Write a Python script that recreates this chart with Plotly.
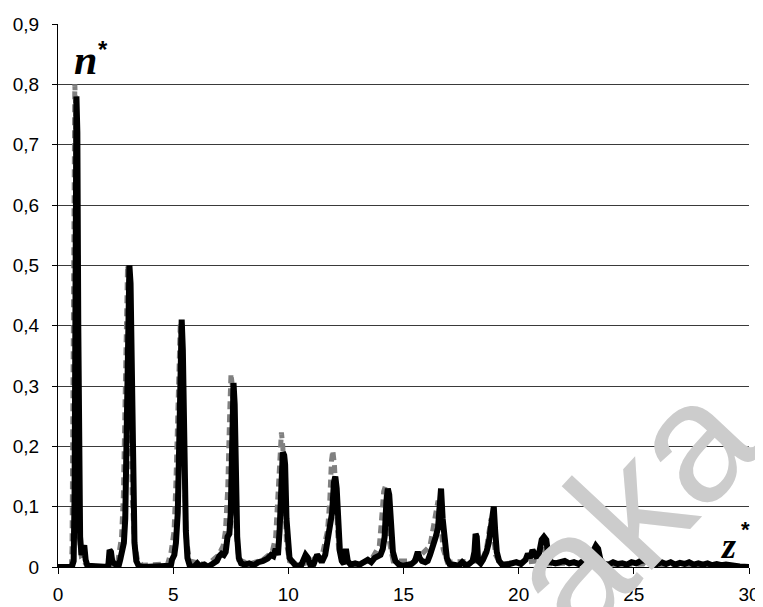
import plotly.graph_objects as go

# Solid black series (z*, n*)
x_solid = [0.0, 0.6, 0.68, 0.72, 0.76, 0.80, 0.84, 0.88, 0.92, 0.96, 1.02, 1.08, 1.14, 1.2, 1.28,
           2.18, 2.24, 2.3, 2.36, 2.45, 2.55, 2.62, 2.7, 2.78, 2.86, 2.92, 2.98, 3.04, 3.1, 3.15, 3.2,
           3.26, 3.32, 3.4, 3.5, 3.7, 4.9, 4.95, 5.05, 5.12, 5.2, 5.26, 5.32, 5.37, 5.42, 5.48, 5.55,
           5.62, 5.72, 5.9, 6.05, 6.15, 6.35, 6.5, 6.7, 6.9, 7.0, 7.1, 7.2, 7.28, 7.36, 7.44, 7.5,
           7.56, 7.62, 7.67, 7.72, 7.78, 7.85, 7.95, 8.1, 8.3, 8.5, 8.7, 8.9, 9.1, 9.25, 9.35, 9.45,
           9.55, 9.62, 9.7, 9.76, 9.82, 9.86, 9.92, 9.98, 10.05, 10.15, 10.3, 10.55, 10.75, 10.85,
           10.95, 11.1, 11.25, 11.35, 11.45, 11.6, 11.7, 11.8, 11.9, 11.98, 12.04, 12.1, 12.16, 12.24,
           12.32, 12.42, 12.5, 12.58, 12.7, 12.9, 13.1, 13.3, 13.45, 13.6, 13.75, 13.9, 14.0, 14.1,
           14.18, 14.26, 14.32, 14.38, 14.46, 14.54, 14.65, 14.8, 15.0, 15.2, 15.35, 15.5, 15.62,
           15.7, 15.8, 15.95, 16.05, 16.15, 16.3, 16.4, 16.5, 16.58, 16.63, 16.7, 16.78, 16.88, 17.0,
           17.2, 17.4, 17.55, 17.7, 17.85, 18.0, 18.08, 18.13, 18.18, 18.24, 18.35, 18.45, 18.6,
           18.7, 18.8, 18.86, 18.92, 18.98, 19.05, 19.15, 19.3, 19.6, 19.9, 20.1, 20.3, 20.4, 20.5,
           20.6, 20.7, 20.8, 20.9, 21.0, 21.1, 21.2, 21.28, 21.4, 21.6, 21.8, 22.0, 22.2, 22.4, 22.6,
           22.8, 23.0, 23.15, 23.25, 23.35, 23.45, 23.55, 23.7, 23.9, 24.1, 24.3, 24.5, 24.7, 24.9,
           25.1, 25.3, 25.45, 25.6, 25.75, 25.95, 26.2, 26.4, 26.6, 26.8, 27.0, 27.2, 27.4, 27.6,
           27.8, 28.0, 28.2, 28.4, 28.6, 28.8, 29.0, 29.3, 29.6, 30.0]
n_solid = [0.0, 0.0, 0.01, 0.12, 0.45, 0.78, 0.72, 0.40, 0.15, 0.05, 0.02, 0.035, 0.036, 0.012, 0.002,
           0.0, 0.028, 0.025, 0.008, 0.006, 0.002, 0.0, 0.012, 0.025, 0.04, 0.08, 0.2, 0.4, 0.5, 0.47, 0.3,
           0.12, 0.04, 0.01, 0.002, 0.0, 0.002, 0.012, 0.02, 0.04, 0.09, 0.2, 0.35, 0.41, 0.36, 0.18, 0.06,
           0.015, 0.002, 0.0, 0.006, 0.002, 0.004, 0.0, 0.006, 0.01, 0.018, 0.022, 0.02, 0.025, 0.05, 0.055, 0.09,
           0.2, 0.305, 0.27, 0.14, 0.05, 0.015, 0.006, 0.004, 0.006, 0.003, 0.008, 0.01, 0.014, 0.02, 0.018, 0.03,
           0.02, 0.06, 0.13, 0.19, 0.185, 0.17, 0.08, 0.03, 0.015, 0.01, 0.003, 0.002, 0.02, 0.015,
           0.004, 0.005, 0.02, 0.015, 0.008, 0.02, 0.04, 0.06, 0.09, 0.14, 0.15, 0.13, 0.07, 0.025,
           0.01, 0.005, 0.03, 0.01, 0.004, 0.006, 0.004, 0.008, 0.012, 0.008, 0.015, 0.018, 0.02, 0.03,
           0.05, 0.11, 0.13, 0.12, 0.06, 0.025, 0.01, 0.004, 0.002, 0.004, 0.005, 0.01, 0.025,
           0.015, 0.01, 0.008, 0.01, 0.02, 0.035, 0.05, 0.065, 0.13, 0.13, 0.08, 0.04, 0.015, 0.005,
           0.003, 0.002, 0.008, 0.003, 0.005, 0.01, 0.025, 0.055, 0.05, 0.01, 0.006, 0.012, 0.025,
           0.04, 0.07, 0.1, 0.1, 0.06, 0.025, 0.01, 0.003, 0.005, 0.008, 0.005, 0.012, 0.022, 0.015,
           0.028, 0.02, 0.015, 0.025, 0.045, 0.05, 0.045, 0.02, 0.008, 0.006, 0.008, 0.01, 0.006, 0.008, 0.005,
           0.01, 0.008, 0.02, 0.025, 0.035, 0.03, 0.012, 0.005, 0.004, 0.008, 0.005, 0.006, 0.004, 0.008,
           0.006, 0.01, 0.012, 0.012, 0.006, 0.004, 0.008, 0.005, 0.008, 0.004, 0.007, 0.005, 0.008, 0.004,
           0.006, 0.004, 0.006, 0.003, 0.005, 0.003, 0.004, 0.002, 0.001, 0.0]

# Dashed grey series
x_dash = [0.0, 0.58, 0.61, 0.65, 0.69, 0.73, 0.77, 0.82, 0.87, 0.93, 1.02, 1.18, 1.3,
          2.56, 2.66, 2.76, 2.84, 2.9, 2.96, 3.02, 3.08, 3.14, 3.22, 3.32, 3.46, 3.66,
          4.76, 4.91, 5.04, 5.12, 5.2, 5.26, 5.31, 5.37, 5.46, 5.56, 5.71,
          6.47, 6.97, 7.17, 7.27, 7.37, 7.45, 7.51, 7.57, 7.64, 7.73, 7.85,
          8.3, 8.9, 9.3, 9.45, 9.55, 9.62, 9.7, 9.76, 9.84, 9.92, 10.05,
          10.5, 11.0, 11.5, 11.7, 11.8, 11.87, 11.93, 12.0, 12.08, 12.18, 12.35,
          13.0, 13.6, 13.95, 14.05, 14.14, 14.22, 14.3, 14.4, 14.55,
          15.5, 16.15, 16.3, 16.42, 16.5, 16.6, 16.72, 16.9,
          18.4, 18.6, 18.72, 18.8, 18.88, 19.0, 19.2,
          20.8, 20.95, 21.05, 21.15, 21.3, 23.2, 23.35, 23.45, 23.6, 25.4, 25.55, 25.7, 26.0, 30.0]
n_dash = [0.0, 0.0, 0.03, 0.25, 0.6, 0.80, 0.76, 0.45, 0.18, 0.05, 0.015, 0.005, 0.0,
          0.0, 0.02, 0.05, 0.12, 0.25, 0.42, 0.5, 0.48, 0.32, 0.12, 0.04, 0.01, 0.003,
          0.005, 0.025, 0.06, 0.14, 0.28, 0.39, 0.405, 0.34, 0.15, 0.05, 0.01,
          0.003, 0.02, 0.035, 0.06, 0.13, 0.25, 0.32, 0.3, 0.16, 0.06, 0.012,
          0.005, 0.012, 0.025, 0.05, 0.12, 0.19, 0.223, 0.2, 0.11, 0.04, 0.01,
          0.003, 0.01, 0.025, 0.06, 0.11, 0.175, 0.193, 0.17, 0.09, 0.03, 0.008,
          0.004, 0.012, 0.035, 0.08, 0.125, 0.135, 0.1, 0.04, 0.01,
          0.01, 0.035, 0.065, 0.1, 0.11, 0.08, 0.03, 0.008,
          0.01, 0.03, 0.06, 0.08, 0.06, 0.02, 0.005,
          0.01, 0.03, 0.035, 0.025, 0.005, 0.008, 0.02, 0.015, 0.003, 0.005, 0.012, 0.005, 0.0, 0.0]

y_ticks = [0, 0.1, 0.2, 0.3, 0.4, 0.5, 0.6, 0.7, 0.8, 0.9]
x_ticks = [0, 5, 10, 15, 20, 25, 30]

fig = go.Figure()
fig.add_trace(go.Scatter(x=x_dash, y=n_dash, mode="lines",
                         line=dict(color="#808080", width=5, dash="8px,5px"), showlegend=False))
fig.add_trace(go.Scatter(x=x_solid, y=n_solid, mode="lines",
                         line=dict(color="black", width=6), showlegend=False))

tick_font = dict(family="Liberation Sans, Arial", size=19, color="black")
# page body adds an 8px margin, so the figure is sized to fit the window
fig.update_layout(
    width=755, height=599,
    margin=dict(l=50, r=14, t=16, b=40),
    paper_bgcolor="white", plot_bgcolor="white",
    separators=", ",
    font=dict(family="Liberation Sans, Arial", size=19, color="black"),
    xaxis=dict(range=[0, 30], tickvals=x_ticks, showgrid=False, zeroline=False, automargin=False,
               showline=True, linecolor="black", linewidth=1, tickfont=tick_font,
               ticks="outside", ticklen=6, tickcolor="black", ticklabelstandoff=4),
    yaxis=dict(range=[0, 0.9], tickvals=y_ticks, showgrid=True, gridcolor="#3a3a3a", gridwidth=1,
               zeroline=False, showline=True, linecolor="black", linewidth=1, automargin=False,
               tickfont=tick_font,
               ticks="outside", ticklen=5, tickcolor="black", ticklabelstandoff=9),
)

fig.add_annotation(x=1.2, y=0.84, xref="x", yref="y", text="<b><i>n</i></b>", showarrow=False,
                   xanchor="center", yanchor="middle",
                   font=dict(family="Liberation Serif", size=42, color="black"))
fig.add_annotation(x=1.95, y=0.857, xref="x", yref="y", text="<b>*</b>", showarrow=False,
                   xanchor="center", yanchor="middle",
                   font=dict(family="Liberation Sans", size=24, color="black"))
fig.add_annotation(x=29.07, y=0.034, xref="x", yref="y", text="<b><i>z</i></b>", showarrow=False,
                   xanchor="center", yanchor="middle",
                   font=dict(family="Liberation Serif", size=36, color="black"))
fig.add_annotation(x=29.85, y=0.062, xref="x", yref="y", text="<b>*</b>", showarrow=False,
                   xanchor="center", yanchor="middle",
                   font=dict(family="Liberation Sans", size=22, color="black"))

# light watermark
fig.add_annotation(x=0.828, y=0.11, xref="paper", yref="paper", text="aka", showarrow=False,
                   xanchor="center", yanchor="middle", textangle=-47,
                   font=dict(family="Liberation Sans", size=170, color="#cccccc"))

fig.write_html("out.html")
